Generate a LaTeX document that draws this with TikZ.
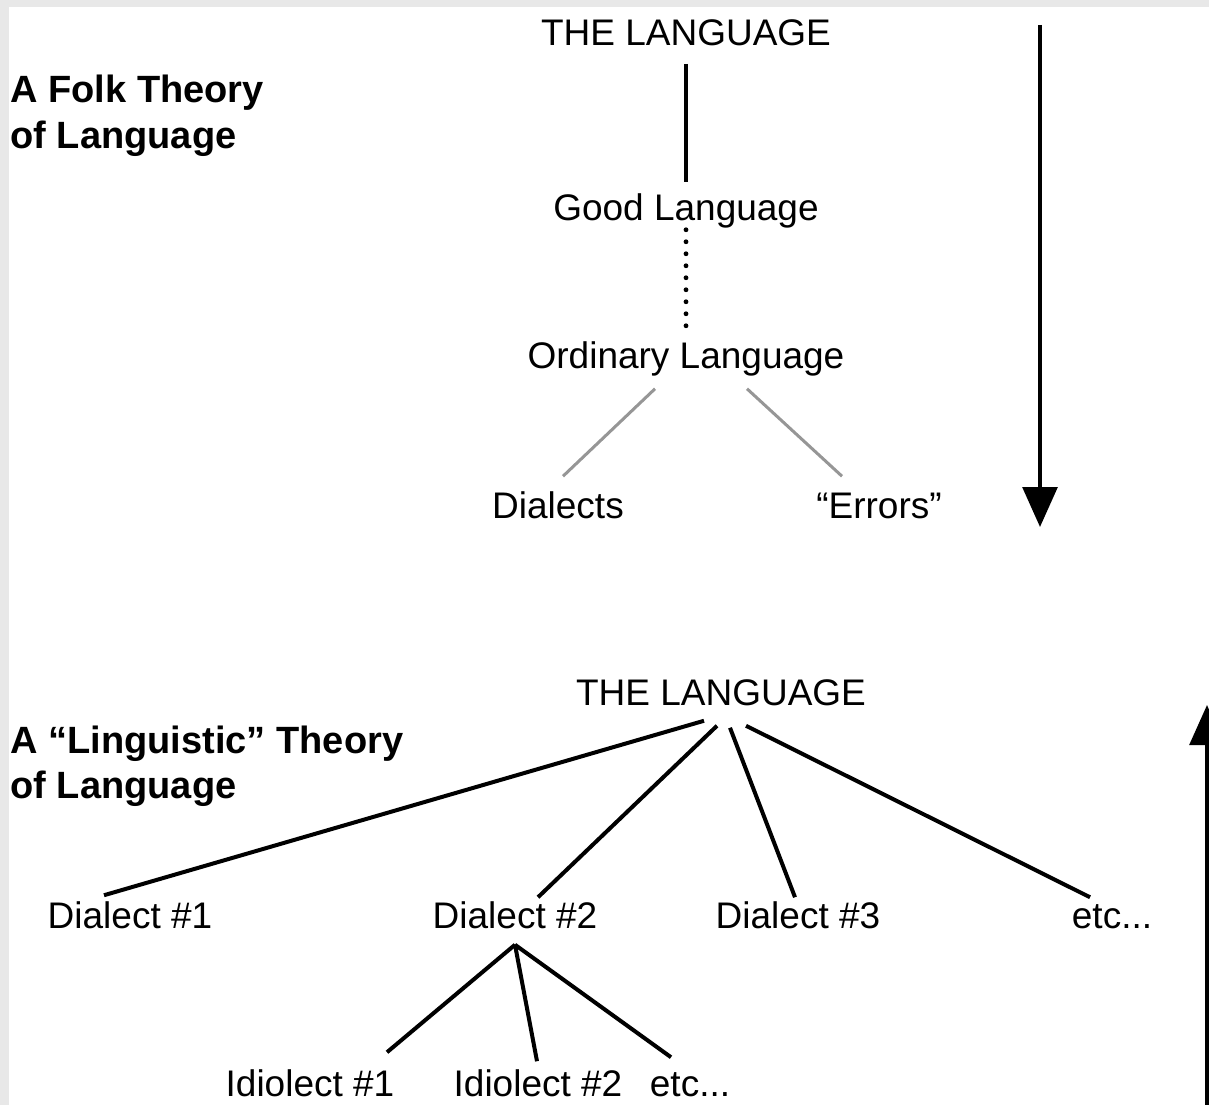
\documentclass[tikz,border=0pt]{standalone}
\usepackage{fontspec}
\setmainfont{Liberation Sans}
\usetikzlibrary{arrows.meta}

\definecolor{framegray}{RGB}{232,232,232}
\definecolor{linkgray}{RGB}{150,150,150}

\tikzset{every picture/.style={line width=0.75pt}}
\tikzset{
	word/.style={font=\fontsize{27.75}{33}\selectfont, inner sep=0pt, text height=19.9pt, text depth=0pt},
	title/.style={word, font=\fontsize{28.5}{33}\selectfont\bfseries, anchor=west},
	branch/.style={line width=3pt, draw=black},
	thinbranch/.style={line width=2.4pt, draw=black},
	softbranch/.style={line width=2.25pt, draw=linkgray},
	dotbranch/.style={line width=3.6pt, line cap=round, dash pattern=on 0pt off 9pt},
	flow/.style={line width=3pt, -{Triangle[length=30pt, width=26pt]}}
}

\begin{document}
\begin{tikzpicture}[x=0.75pt,y=0.75pt,yscale=-1,xscale=1]
	\useasboundingbox (0,0) rectangle (1209,1105);
	% background with the grey frame top and left
	\fill[framegray] (0,0) rectangle (1209,1105);
	\fill[white] (9,7) rectangle (1209,1105);

	% Text Node
	\node[title] (folkA) at (10,89) {A Folk Theory};
	% Text Node
	\node[title] (folkB) at (10,135) {of Language};
	% Text Node
	\node[word] (lang1) at (686,32) {THE LANGUAGE};
	% Text Node
	\node[word] (good) at (686,207) {Good Language};
	% Text Node
	\node[word] (ordinary) at (686,355) {Ordinary Language};
	% Text Node
	\node[word] (dialects) at (558,505) {Dialects};
	% Text Node
	\node[word] (errors) at (879,505) {“Errors”};

	% Text Node
	\node[title] (lingA) at (10,740) {A “Linguistic” Theory};
	% Text Node
	\node[title] (lingB) at (10,785) {of Language};
	% Text Node
	\node[word] (lang2) at (721,692) {THE LANGUAGE};
	% Text Node
	\node[word] (dia1) at (130,915) {Dialect \#1};
	% Text Node
	\node[word] (dia2) at (515,915) {Dialect \#2};
	% Text Node
	\node[word] (dia3) at (798,915) {Dialect \#3};
	% Text Node
	\node[word] (diaetc) at (1112,915) {etc...};
	% Text Node
	\node[word] (idio1) at (310,1083) {Idiolect \#1};
	% Text Node
	\node[word] (idio2) at (538,1083) {Idiolect \#2};
	% Text Node
	\node[word] (idioetc) at (690,1083) {etc...};

	%Straight Lines
	\draw[thinbranch] ([shift={(0,18)}]lang1.south) -- ([shift={(0,-11)}]good.north);
	%Dotted Lines
	\draw[dotbranch] ([shift={(0,9)}]good.south) -- ([shift={(0,-5)}]ordinary.north);
	%Straight Lines
	\draw[softbranch] ([shift={(-31,20)}]ordinary.south) -- ([shift={(5,-15)}]dialects.north);
	\draw[softbranch] ([shift={(61,20)}]ordinary.south) -- ([shift={(-37,-15)}]errors.north);

	%Straight Lines
	\draw[branch] ([shift={(-17,15)}]lang2.south) -- ([shift={(-26,-6)}]dia1.north);
	\draw[branch] ([shift={(-4,20)}]lang2.south) -- ([shift={(23,-4)}]dia2.north);
	\draw[branch] ([shift={(9,22)}]lang2.south) -- ([shift={(-3,-4)}]dia3.north);
	\draw[branch] ([shift={(25,20)}]lang2.south) -- ([shift={(-22,-4)}]diaetc.north);
	%Straight Lines
	\draw[branch] ([shift={(0,16)}]dia2.south) -- ([shift={(77,-17)}]idio1.north);
	\draw[branch] ([shift={(0,16)}]dia2.south) -- ([shift={(-1,-8)}]idio2.north);
	\draw[branch] ([shift={(0,16)}]dia2.south) -- ([shift={(-19,-12)}]idioetc.north);

	%Arrows
	\coordinate (downtop) at (1040,25);
	\coordinate (downtip) at (1040,527);
	\draw[flow] (downtop) -- (downtip);
	\coordinate (upfoot) at (1207,1105);
	\coordinate (uptip) at (1207,705);
	\draw[flow] (upfoot) -- (uptip);
\end{tikzpicture}
\end{document}
